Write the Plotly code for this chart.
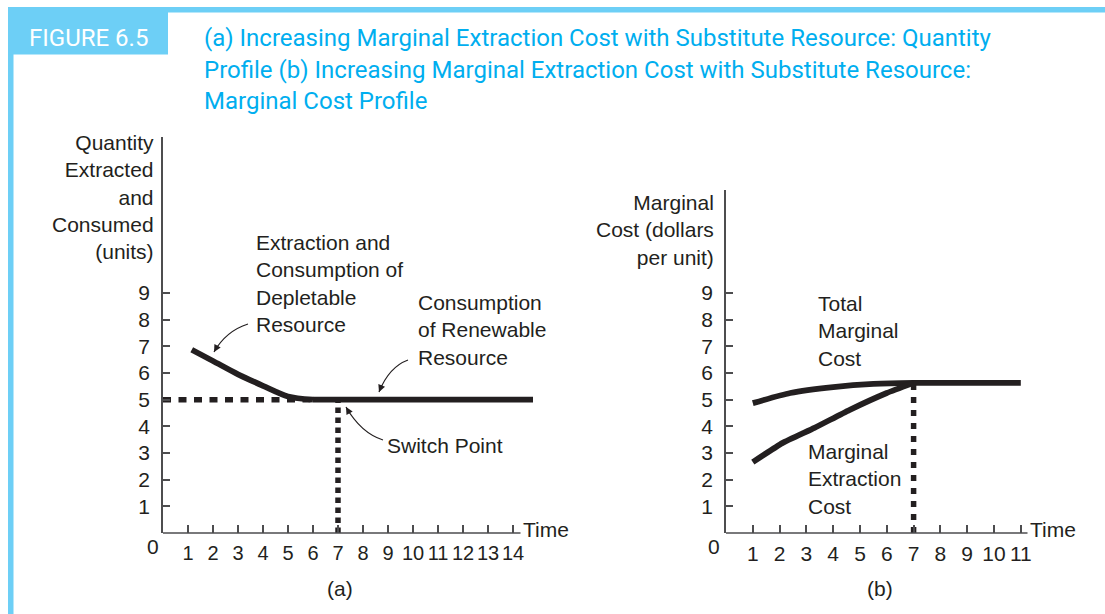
import plotly.graph_objects as go

W, H = 1105, 614

# ---------------- data ----------------
# Panel (a): quantity profile
depl_time = [1.15, 2, 3, 4, 5, 6]
depl_qty = [6.87, 6.45, 5.95, 5.52, 5.12, 5.0]
renew_time = [6, 14.8]
renew_qty = [5.0, 5.0]
switch_time = 7
switch_qty = 5.0
a_xticks = list(range(1, 15))

# Panel (b): marginal cost profile
tmc_time = [1, 2.4, 4, 5.5, 7, 11]
tmc_cost = [4.87, 5.25, 5.47, 5.59, 5.63, 5.63]
mec_time = [1, 2.1, 3.3, 4.6, 6, 7]
mec_cost = [2.66, 3.37, 3.94, 4.61, 5.25, 5.63]
b_xticks = list(range(1, 12))
y_ticks = list(range(1, 10))

# ---------------- styling ----------------
INK = "#231f20"
AXC = "#4d4d4f"
CYAN_BOX = "#6dcff6"
CYAN_TXT = "#00aeef"
FONT = "Liberation Sans, Arial, Helvetica, sans-serif"
NARROW = "Roboto, Liberation Sans, sans-serif"
FS = 21
TFS = 24


def px(x):
    return x / W


def py(y):
    return 1 - y / H


fig = go.Figure()

line_style = dict(color=INK, width=5.8)

# panel a
fig.add_trace(go.Scatter(x=depl_time, y=depl_qty, mode="lines",
                         line=dict(**line_style, shape="spline", smoothing=0.8),
                         xaxis="x", yaxis="y", hoverinfo="skip"))
fig.add_trace(go.Scatter(x=renew_time, y=renew_qty, mode="lines", line=line_style,
                         xaxis="x", yaxis="y", hoverinfo="skip"))
fig.add_trace(go.Scatter(x=[0, depl_time[-1]], y=[switch_qty, switch_qty], mode="lines",
                         line=dict(color=INK, width=5.5, dash="8px,7.5px"),
                         xaxis="x", yaxis="y", hoverinfo="skip"))
fig.add_trace(go.Scatter(x=[switch_time, switch_time], y=[0, switch_qty], mode="lines",
                         line=dict(color=INK, width=5.5, dash="5.5px,4.5px"),
                         xaxis="x", yaxis="y", hoverinfo="skip"))

# panel b
fig.add_trace(go.Scatter(x=tmc_time, y=tmc_cost, mode="lines",
                         line=dict(**line_style, shape="spline", smoothing=0.6),
                         xaxis="x2", yaxis="y2", hoverinfo="skip"))
fig.add_trace(go.Scatter(x=mec_time, y=mec_cost, mode="lines",
                         line=dict(**line_style, shape="spline", smoothing=0.4),
                         xaxis="x2", yaxis="y2", hoverinfo="skip"))
fig.add_trace(go.Scatter(x=[mec_time[-1], mec_time[-1]], y=[0, mec_cost[-1]], mode="lines",
                         line=dict(color=INK, width=5.5, dash="6px,7px"),
                         xaxis="x2", yaxis="y2", hoverinfo="skip"))

common_x = dict(showline=False, ticks="inside", ticklen=8, tickwidth=1.5, tickcolor=AXC,
                showgrid=False, zeroline=False,
                tickangle=0, ticklabelstandoff=6, fixedrange=True)
common_y = dict(showline=True, linecolor=AXC, linewidth=1.5, ticks="inside", ticklen=7,
                tickwidth=1.5, tickcolor=AXC, showgrid=False, zeroline=False,
                tickvals=y_ticks, tickfont=dict(size=FS, color=INK, family=FONT),
                ticklabelstandoff=7, fixedrange=True)

fig.update_layout(
    width=W, height=H,
    margin=dict(l=0, r=0, t=0, b=0),
    paper_bgcolor="white", plot_bgcolor="rgba(0,0,0,0)",
    showlegend=False,
    font=dict(family=FONT, color=INK, size=FS),
    xaxis=dict(domain=[px(163), px(545)], range=[0, (545 - 163) / 25.0], anchor="y",
               tickvals=a_xticks, tickfont=dict(size=20, color=INK, family=FONT), **common_x),
    yaxis=dict(domain=[py(533), py(137)], range=[0, (533 - 137) / 26.67], anchor="x", **common_y),
    xaxis2=dict(domain=[px(726), px(1045)], range=[0, (1045 - 726) / 26.8], anchor="y2",
                tickvals=b_xticks, tickfont=dict(size=FS, color=INK, family=FONT), **common_x),
    yaxis2=dict(domain=[py(533), py(190)], range=[0, (533 - 190) / 26.67], anchor="x2", **common_y),
)

shapes = []
# x axis lines (stop short of the plotted curves' extent, as in the original)
shapes.append(dict(type="line", xref="x", yref="paper", x0=0, x1=14.3, y0=py(533), y1=py(533),
                   line=dict(color=AXC, width=1.5)))
shapes.append(dict(type="line", xref="x2", yref="paper", x0=0, x1=11.25, y0=py(533), y1=py(533),
                   line=dict(color=AXC, width=1.5)))
# header frame
shapes.append(dict(type="rect", xref="paper", yref="paper", x0=px(8), x1=1, y0=py(12.5), y1=py(7),
                   fillcolor=CYAN_BOX, line=dict(width=0), layer="below"))
shapes.append(dict(type="rect", xref="paper", yref="paper", x0=px(8), x1=px(13.5), y0=0, y1=py(7),
                   fillcolor=CYAN_BOX, line=dict(width=0), layer="below"))
shapes.append(dict(type="rect", xref="paper", yref="paper", x0=px(8), x1=px(168), y0=py(54.5), y1=py(7),
                   fillcolor=CYAN_BOX, line=dict(width=0), layer="below"))

# curved pointer arrows (tail, control, head) in pixel space
arrows = [
    ((248, 324), (226, 331), (214, 352)),
    ((408, 360), (389, 367), (379, 392)),
    ((383, 440), (361, 433), (346, 407)),
]
annotations = []
for (tx, ty), (cx, cy), (hx, hy) in arrows:
    shapes.append(dict(type="path", xref="paper", yref="paper",
                       path=f"M {px(tx)},{py(ty)} Q {px(cx)},{py(cy)} {px(hx)},{py(hy)}",
                       line=dict(color=INK, width=1.2)))
    dx, dy = hx - cx, hy - cy
    n = (dx * dx + dy * dy) ** 0.5
    annotations.append(dict(x=px(hx), y=py(hy), xref="paper", yref="paper", text="",
                            showarrow=True, arrowhead=2, arrowsize=1.2, arrowwidth=1.2,
                            arrowcolor=INK, ax=-dx / n * 9, ay=-dy / n * 9, standoff=0))

fig.update_layout(shapes=shapes)


def txt(x, y, s, xanchor="left", yanchor="middle", align="left", size=FS, color=INK, family=FONT):
    annotations.append(dict(x=px(x), y=py(y), xref="paper", yref="paper", text=s,
                            showarrow=False, xanchor=xanchor, yanchor=yanchor, align=align,
                            font=dict(size=size, color=color, family=family)))


# header
txt(88, 38, "FIGURE 6.5", xanchor="center", size=TFS, color="white", family=NARROW)
txt(202, 38, "(a) Increasing Marginal Extraction Cost with Substitute Resource: Quantity",
    size=TFS, color=CYAN_TXT, family=NARROW)
txt(202, 70, "Profile (b) Increasing Marginal Extraction Cost with Substitute Resource:",
    size=TFS, color=CYAN_TXT, family=NARROW)
txt(202, 101, "Marginal Cost Profile", size=TFS, color=CYAN_TXT, family=NARROW)

# panel a text
txt(156, 196.5, "Quantity<br>Extracted<br>and<br>Consumed<br>(units)", xanchor="right", align="right")
txt(254, 283.5, "Extraction and<br>Consumption of<br>Depletable<br>Resource")
txt(416, 330, "Consumption<br>of Renewable<br>Resource")
txt(385, 445, "Switch Point")
txt(153, 546, "0", xanchor="center")
txt(521, 529, "Time")
txt(340, 588, "(a)", xanchor="center")

# panel b text
txt(716, 229.5, "Marginal<br>Cost (dollars<br>per unit)", xanchor="right", align="right")
txt(816, 331, "Total<br>Marginal<br>Cost")
txt(806, 478.5, "Marginal<br>Extraction<br>Cost")
txt(714, 546, "0", xanchor="center")
txt(1028, 529, "Time")
txt(880, 588, "(b)", xanchor="center")

fig.update_layout(annotations=annotations)

fig.write_html("out.html", config={"displayModeBar": False},
               post_script="document.body.style.margin='0';document.body.style.padding='0';")
